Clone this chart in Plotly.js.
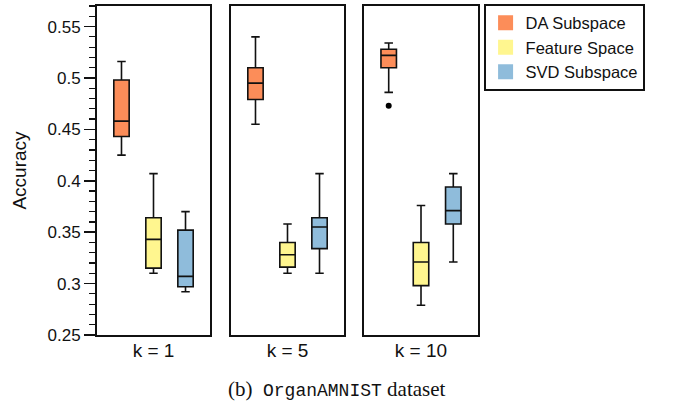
<!DOCTYPE html>
<html>
<head>
<meta charset="utf-8">
<script src="https://cdn.plot.ly/plotly-3.0.1.min.js"></script>
<style>html,body{margin:0;padding:0;background:#fff;}#chart{width:674px;height:406px;}</style>
</head>
<body>
<div id="chart"></div>
<script>
// ---- data ----
var kLabels = ['k = 1', 'k = 5', 'k = 10'];
var methods = ['DA Subspace', 'Feature Space', 'SVD Subspace'];
var colors = ['#FC8D59', '#FFF68F', '#8FBCDB'];

// per method: values for k = 1, 5, 10
var daLower   = [0.425, 0.455, 0.486];
var daQ1      = [0.443, 0.479, 0.510];
var daMedian  = [0.458, 0.495, 0.522];
var daQ3      = [0.498, 0.510, 0.528];
var daUpper   = [0.516, 0.540, 0.534];

var feLower   = [0.310, 0.310, 0.279];
var feQ1      = [0.315, 0.316, 0.298];
var feMedian  = [0.343, 0.328, 0.321];
var feQ3      = [0.364, 0.340, 0.340];
var feUpper   = [0.407, 0.358, 0.376];

var svLower   = [0.292, 0.310, 0.321];
var svQ1      = [0.297, 0.334, 0.358];
var svMedian  = [0.307, 0.355, 0.371];
var svQ3      = [0.352, 0.364, 0.394];
var svUpper   = [0.370, 0.407, 0.407];

// outliers: [panel index, method index, value]
var outlierPanel  = [2];
var outlierMethod = [0];
var outlierValue  = [0.473];

var stats = [
  {lo: daLower, q1: daQ1, med: daMedian, q3: daQ3, hi: daUpper},
  {lo: feLower, q1: feQ1, med: feMedian, q3: feQ3, hi: feUpper},
  {lo: svLower, q1: svQ1, med: svMedian, q3: svQ3, hi: svUpper}
];

var traces = [];
var axSuffix = ['', '2', '3'];
for (var k = 0; k < kLabels.length; k++) {
  for (var m = 0; m < methods.length; m++) {
    var s = stats[m];
    traces.push({
      type: 'box',
      name: methods[m],
      x: [m],
      q1: [s.q1[k]], median: [s.med[k]], q3: [s.q3[k]],
      lowerfence: [s.lo[k]], upperfence: [s.hi[k]],
      boxpoints: false,
      width: 0.48,
      whiskerwidth: 0.55,
      fillcolor: colors[m],
      line: {color: '#111', width: 1.6},
      xaxis: 'x' + axSuffix[k],
      yaxis: 'y' + axSuffix[k],
      showlegend: false,
      hoverinfo: 'skip'
    });
  }
}
for (var o = 0; o < outlierValue.length; o++) {
  traces.push({
    type: 'scatter', mode: 'markers',
    x: [outlierMethod[o]], y: [outlierValue[o]],
    xaxis: 'x' + axSuffix[outlierPanel[o]],
    yaxis: 'y' + axSuffix[outlierPanel[o]],
    marker: {color: '#000', size: 6},
    showlegend: false, hoverinfo: 'skip'
  });
}
for (var m2 = 0; m2 < methods.length; m2++) {
  traces.push({
    type: 'scatter', mode: 'markers', name: methods[m2],
    x: [null], y: [null],
    marker: {symbol: 'square', size: 15, color: colors[m2]},
    xaxis: 'x', yaxis: 'y', showlegend: true
  });
}

var font = 'Liberation Sans, Arial, Helvetica, sans-serif';
var yRange = [0.25, 0.57];
var xRange = [-0.765, 2.765];
var domains = [[0, 0.2966], [0.3517, 0.6483], [0.7008, 1]];

var layout = {
  width: 674, height: 406,
  margin: {l: 97, r: 196, t: 6, b: 71, autoexpand: false},
  paper_bgcolor: '#fff', plot_bgcolor: '#fff',
  font: {family: font, size: 17, color: '#111'},
  showlegend: true,
  legend: {
    x: 1.0157, y: 1.006, xanchor: 'left', yanchor: 'top',
    bordercolor: '#111', borderwidth: 1.6,
    font: {family: font, size: 16.5, color: '#111'},
    itemclick: false
  },
  annotations: [{
    text: "(b)&nbsp;&nbsp;<span style='font-family:Liberation Mono, DejaVu Sans Mono, monospace;font-size:18px'>OrganAMNIST</span> dataset",
    xref: 'paper', yref: 'paper', x: 0.63, y: -0.164,
    xanchor: 'center', yanchor: 'middle', showarrow: false,
    font: {family: 'Liberation Serif, Times New Roman, serif', size: 21, color: '#111'}
  }]
};

for (var i = 0; i < 3; i++) {
  layout['xaxis' + axSuffix[i]] = {
    domain: domains[i], range: xRange, anchor: 'y' + axSuffix[i],
    showgrid: false, zeroline: false, showticklabels: false, ticks: '',
    showline: true, mirror: true, linecolor: '#111', linewidth: 2,
    title: {text: kLabels[i], font: {family: font, size: 19, color: '#111'}, standoff: 8},
    fixedrange: true
  };
  var ya = {
    range: yRange, anchor: 'x' + axSuffix[i],
    showgrid: false, zeroline: false,
    showline: true, mirror: true, linecolor: '#111', linewidth: 2,
    fixedrange: true
  };
  if (i === 0) {
    ya.tickmode = 'array';
    ya.tickvals = [0.25, 0.3, 0.35, 0.4, 0.45, 0.5, 0.55];
    ya.ticktext = ['0.25', '0.3', '0.35', '0.4', '0.45', '0.5', '0.55'];
    ya.ticks = 'outside'; ya.ticklen = 11; ya.tickwidth = 1.6; ya.tickcolor = '#111';
    ya.tickfont = {family: font, size: 17, color: '#111'};
    ya.minor = {dtick: 0.01, tick0: 0.25, ticks: 'outside', ticklen: 6, tickwidth: 1.2, tickcolor: '#111'};
    ya.title = {text: 'Accuracy', font: {family: font, size: 19, color: '#111'}, standoff: 16};
  } else {
    ya.showticklabels = false; ya.ticks = '';
    ya.matches = 'y';
  }
  layout['yaxis' + axSuffix[i]] = ya;
}

Plotly.newPlot('chart', traces, layout, {staticPlot: true, displayModeBar: false});
</script>
</body>
</html>
